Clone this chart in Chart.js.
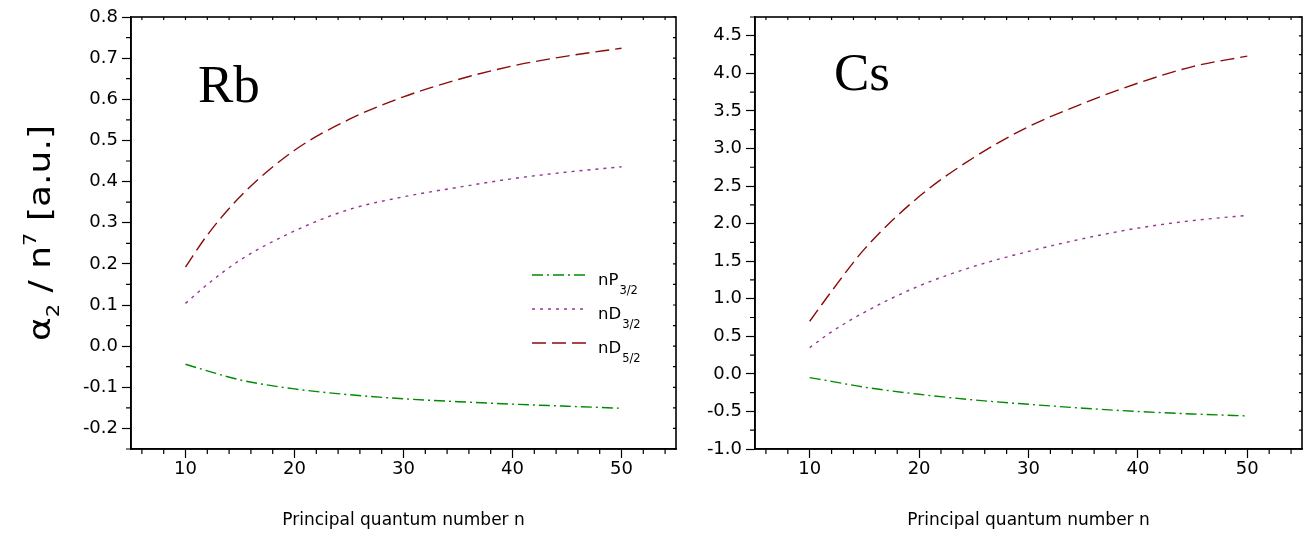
<!DOCTYPE html>
<html>
<head>
<meta charset="utf-8">
<script src="https://cdn.jsdelivr.net/npm/chart.js@4.4.0/dist/chart.umd.min.js"></script>
<style>
body{margin:0;background:#fff;}
#rb{position:absolute;left:0;top:0;}
#cs{position:absolute;left:690px;top:0;}
</style>
</head>
<body>
<canvas id="rb" width="690" height="534"></canvas>
<canvas id="cs" width="619" height="534"></canvas>
<script>
// principal quantum number n
var nVals = [10, 12, 15, 20, 25, 30, 35, 40, 45, 50];
// Rb
var rbP32 = [-0.044, -0.060, -0.082, -0.104, -0.118, -0.128, -0.135, -0.141, -0.146, -0.151];
var rbD32 = [0.104, 0.150, 0.209, 0.280, 0.332, 0.363, 0.386, 0.407, 0.423, 0.436];
var rbD52 = [0.192, 0.270, 0.363, 0.476, 0.551, 0.606, 0.648, 0.681, 0.705, 0.724];
// Cs
var csP32 = [-0.05, -0.10, -0.177, -0.272, -0.347, -0.405, -0.457, -0.501, -0.534, -0.56];
var csD32 = [0.35, 0.56, 0.82, 1.17, 1.43, 1.63, 1.80, 1.94, 2.04, 2.11];
var csD52 = [0.70, 1.10, 1.66, 2.36, 2.88, 3.29, 3.60, 3.87, 4.09, 4.23];

var seriesNames = ['nP', 'nD', 'nD'];
var seriesSubs = ['3/2', '3/2', '5/2'];
var seriesColors = ['#008a00', '#993399', '#8b0a0a'];
var seriesDash = [[11, 4, 2, 4], [3, 5], [14, 6]];

var xTicks = [10, 20, 30, 40, 50];
var rbYTicks = [-0.2, -0.1, 0.0, 0.1, 0.2, 0.3, 0.4, 0.5, 0.6, 0.7, 0.8];
var csYTicks = [-1.0, -0.5, 0.0, 0.5, 1.0, 1.5, 2.0, 2.5, 3.0, 3.5, 4.0, 4.5];

Chart.defaults.font.family = '"DejaVu Sans", sans-serif';
Chart.defaults.color = '#000';

function pts(ys) {
    return nVals.map(function(n, i) { return {x: n, y: ys[i]}; });
}

function makeSets(list) {
    return list.map(function(ys, i) {
        return {
            label: seriesNames[i],
            data: pts(ys),
            borderColor: seriesColors[i],
            borderWidth: 1.4,
            borderDash: seriesDash[i],
            pointRadius: 0,
            fill: false,
            cubicInterpolationMode: 'monotone'
        };
    });
}

// frame, minor ticks, element label, legend, y title
var deco = {
    id: 'deco',
    afterDraw: function(chart, args, o) {
        var ctx = chart.ctx, ca = chart.chartArea;
        var xs = chart.scales.x, ys = chart.scales.y;
        var k, v, p, major;
        ctx.save();
        ctx.strokeStyle = '#000';
        ctx.lineWidth = 1.6;
        ctx.strokeRect(ca.left, ca.top, ca.right - ca.left, ca.bottom - ca.top);

        ctx.lineWidth = 1.2;
        ctx.beginPath();
        for (k = Math.ceil(xs.min / o.xMinor - 1e-6); k * o.xMinor <= xs.max + 1e-9; k++) {
            v = k * o.xMinor;
            p = xs.getPixelForValue(v);
            major = Math.abs(v / o.xMajor - Math.round(v / o.xMajor)) < 1e-6;
            if (!major) { ctx.moveTo(p, ca.bottom); ctx.lineTo(p, ca.bottom + 5); }
            ctx.moveTo(p, ca.top); ctx.lineTo(p, ca.top + 3);
        }
        for (k = Math.ceil(ys.min / o.yMinor - 1e-6); k * o.yMinor <= ys.max + 1e-9; k++) {
            v = k * o.yMinor;
            p = ys.getPixelForValue(v);
            major = Math.abs(v / o.yMajor - Math.round(v / o.yMajor)) < 1e-6;
            if (!major) { ctx.moveTo(ca.left, p); ctx.lineTo(ca.left - 5, p); }
            ctx.moveTo(ca.right, p); ctx.lineTo(ca.right - 3, p);
        }
        ctx.stroke();

        ctx.fillStyle = '#000';
        ctx.textAlign = 'left';
        ctx.textBaseline = 'alphabetic';
        ctx.font = '53px "Liberation Serif"';
        ctx.fillText(o.label, ca.left + o.labelDx, ca.top + o.labelDy);

        if (o.legend) {
            chart.data.datasets.forEach(function(ds, i) {
                var y = ca.top + 258 + i * 34;
                var x0 = ca.left + 401;
                ctx.strokeStyle = ds.borderColor;
                ctx.lineWidth = ds.borderWidth;
                ctx.setLineDash(ds.borderDash);
                ctx.beginPath();
                ctx.moveTo(x0, y);
                ctx.lineTo(x0 + 55, y);
                ctx.stroke();
                ctx.setLineDash([]);
                ctx.font = '16.5px "DejaVu Sans"';
                ctx.fillText(seriesNames[i], x0 + 66, y + 10);
                var w = ctx.measureText(seriesNames[i]).width;
                ctx.font = '11.5px "DejaVu Sans"';
                ctx.fillText(seriesSubs[i], x0 + 67 + w, y + 19);
            });
        }

        if (o.yTitle) {
            var parts = [
                {t: '\u03b1', f: 31, dy: 0},
                {t: '2', f: 18, dy: 9},
                {t: ' / n', f: 31, dy: 0},
                {t: '7', f: 18, dy: -14},
                {t: ' [a.u.]', f: 31, dy: 0}
            ];
            var total = 0;
            parts.forEach(function(q) {
                ctx.font = q.f + 'px "DejaVu Sans"';
                q.w = ctx.measureText(q.t).width;
                total += q.w;
            });
            var stretch = 216 / total;
            ctx.translate(50, (ca.top + ca.bottom) / 2);
            ctx.rotate(-Math.PI / 2);
            ctx.scale(stretch, 1);
            var cx = -total / 2;
            parts.forEach(function(q) {
                ctx.font = q.f + 'px "DejaVu Sans"';
                ctx.fillText(q.t, cx, q.dy);
                cx += q.w;
            });
        }
        ctx.restore();
    }
};

function axisOpts(ticks, width) {
    return {
        x: {
            type: 'linear', min: 5, max: 55,
            afterBuildTicks: function(s) { s.ticks = xTicks.map(function(v) { return {value: v}; }); },
            afterFit: function(s) { s.height = 85; },
            grid: {drawOnChartArea: false, tickLength: 9, tickColor: '#000', tickWidth: 1.2},
            border: {display: true, color: '#000', width: 1.6},
            ticks: {font: {size: 18}, padding: 1, maxRotation: 0, autoSkip: false},
            title: {display: true, text: 'Principal quantum number n', font: {size: 17}, padding: {top: 0, bottom: 3}}
        },
        y: {
            type: 'linear', min: ticks.min, max: ticks.max,
            afterBuildTicks: function(s) { s.ticks = ticks.list.map(function(v) { return {value: v}; }); },
            afterFit: function(s) { s.width = width; },
            grid: {drawOnChartArea: false, tickLength: 9, tickColor: '#000', tickWidth: 1.2},
            border: {display: true, color: '#000', width: 1.6},
            ticks: {font: {size: 18}, padding: 4, autoSkip: false,
                callback: function(v) { return Number(v).toFixed(1); }}
        }
    };
}

new Chart(document.getElementById('rb'), {
    type: 'line',
    data: {datasets: makeSets([rbP32, rbD32, rbD52])},
    options: {
        responsive: false, animation: false,
        layout: {padding: {top: 17, right: 14, bottom: 0, left: 0}},
        scales: axisOpts({min: -0.25, max: 0.8, list: rbYTicks}, 131),
        plugins: {
            legend: {display: false}, tooltip: {enabled: false},
            deco: {xMinor: 2, xMajor: 10, yMinor: 0.05, yMajor: 0.1, label: 'Rb', labelDx: 67, labelDy: 85, legend: true, yTitle: true}
        }
    },
    plugins: [deco]
});

new Chart(document.getElementById('cs'), {
    type: 'line',
    data: {datasets: makeSets([csP32, csD32, csD52])},
    options: {
        responsive: false, animation: false,
        layout: {padding: {top: 17, right: 7, bottom: 0, left: 0}},
        scales: axisOpts({min: -1.0, max: 4.75, list: csYTicks}, 65),
        plugins: {
            legend: {display: false}, tooltip: {enabled: false},
            deco: {xMinor: 2, xMajor: 10, yMinor: 0.25, yMajor: 0.5, label: 'Cs', labelDx: 79, labelDy: 73, legend: false, yTitle: false}
        }
    },
    plugins: [deco]
});
</script>
</body>
</html>
